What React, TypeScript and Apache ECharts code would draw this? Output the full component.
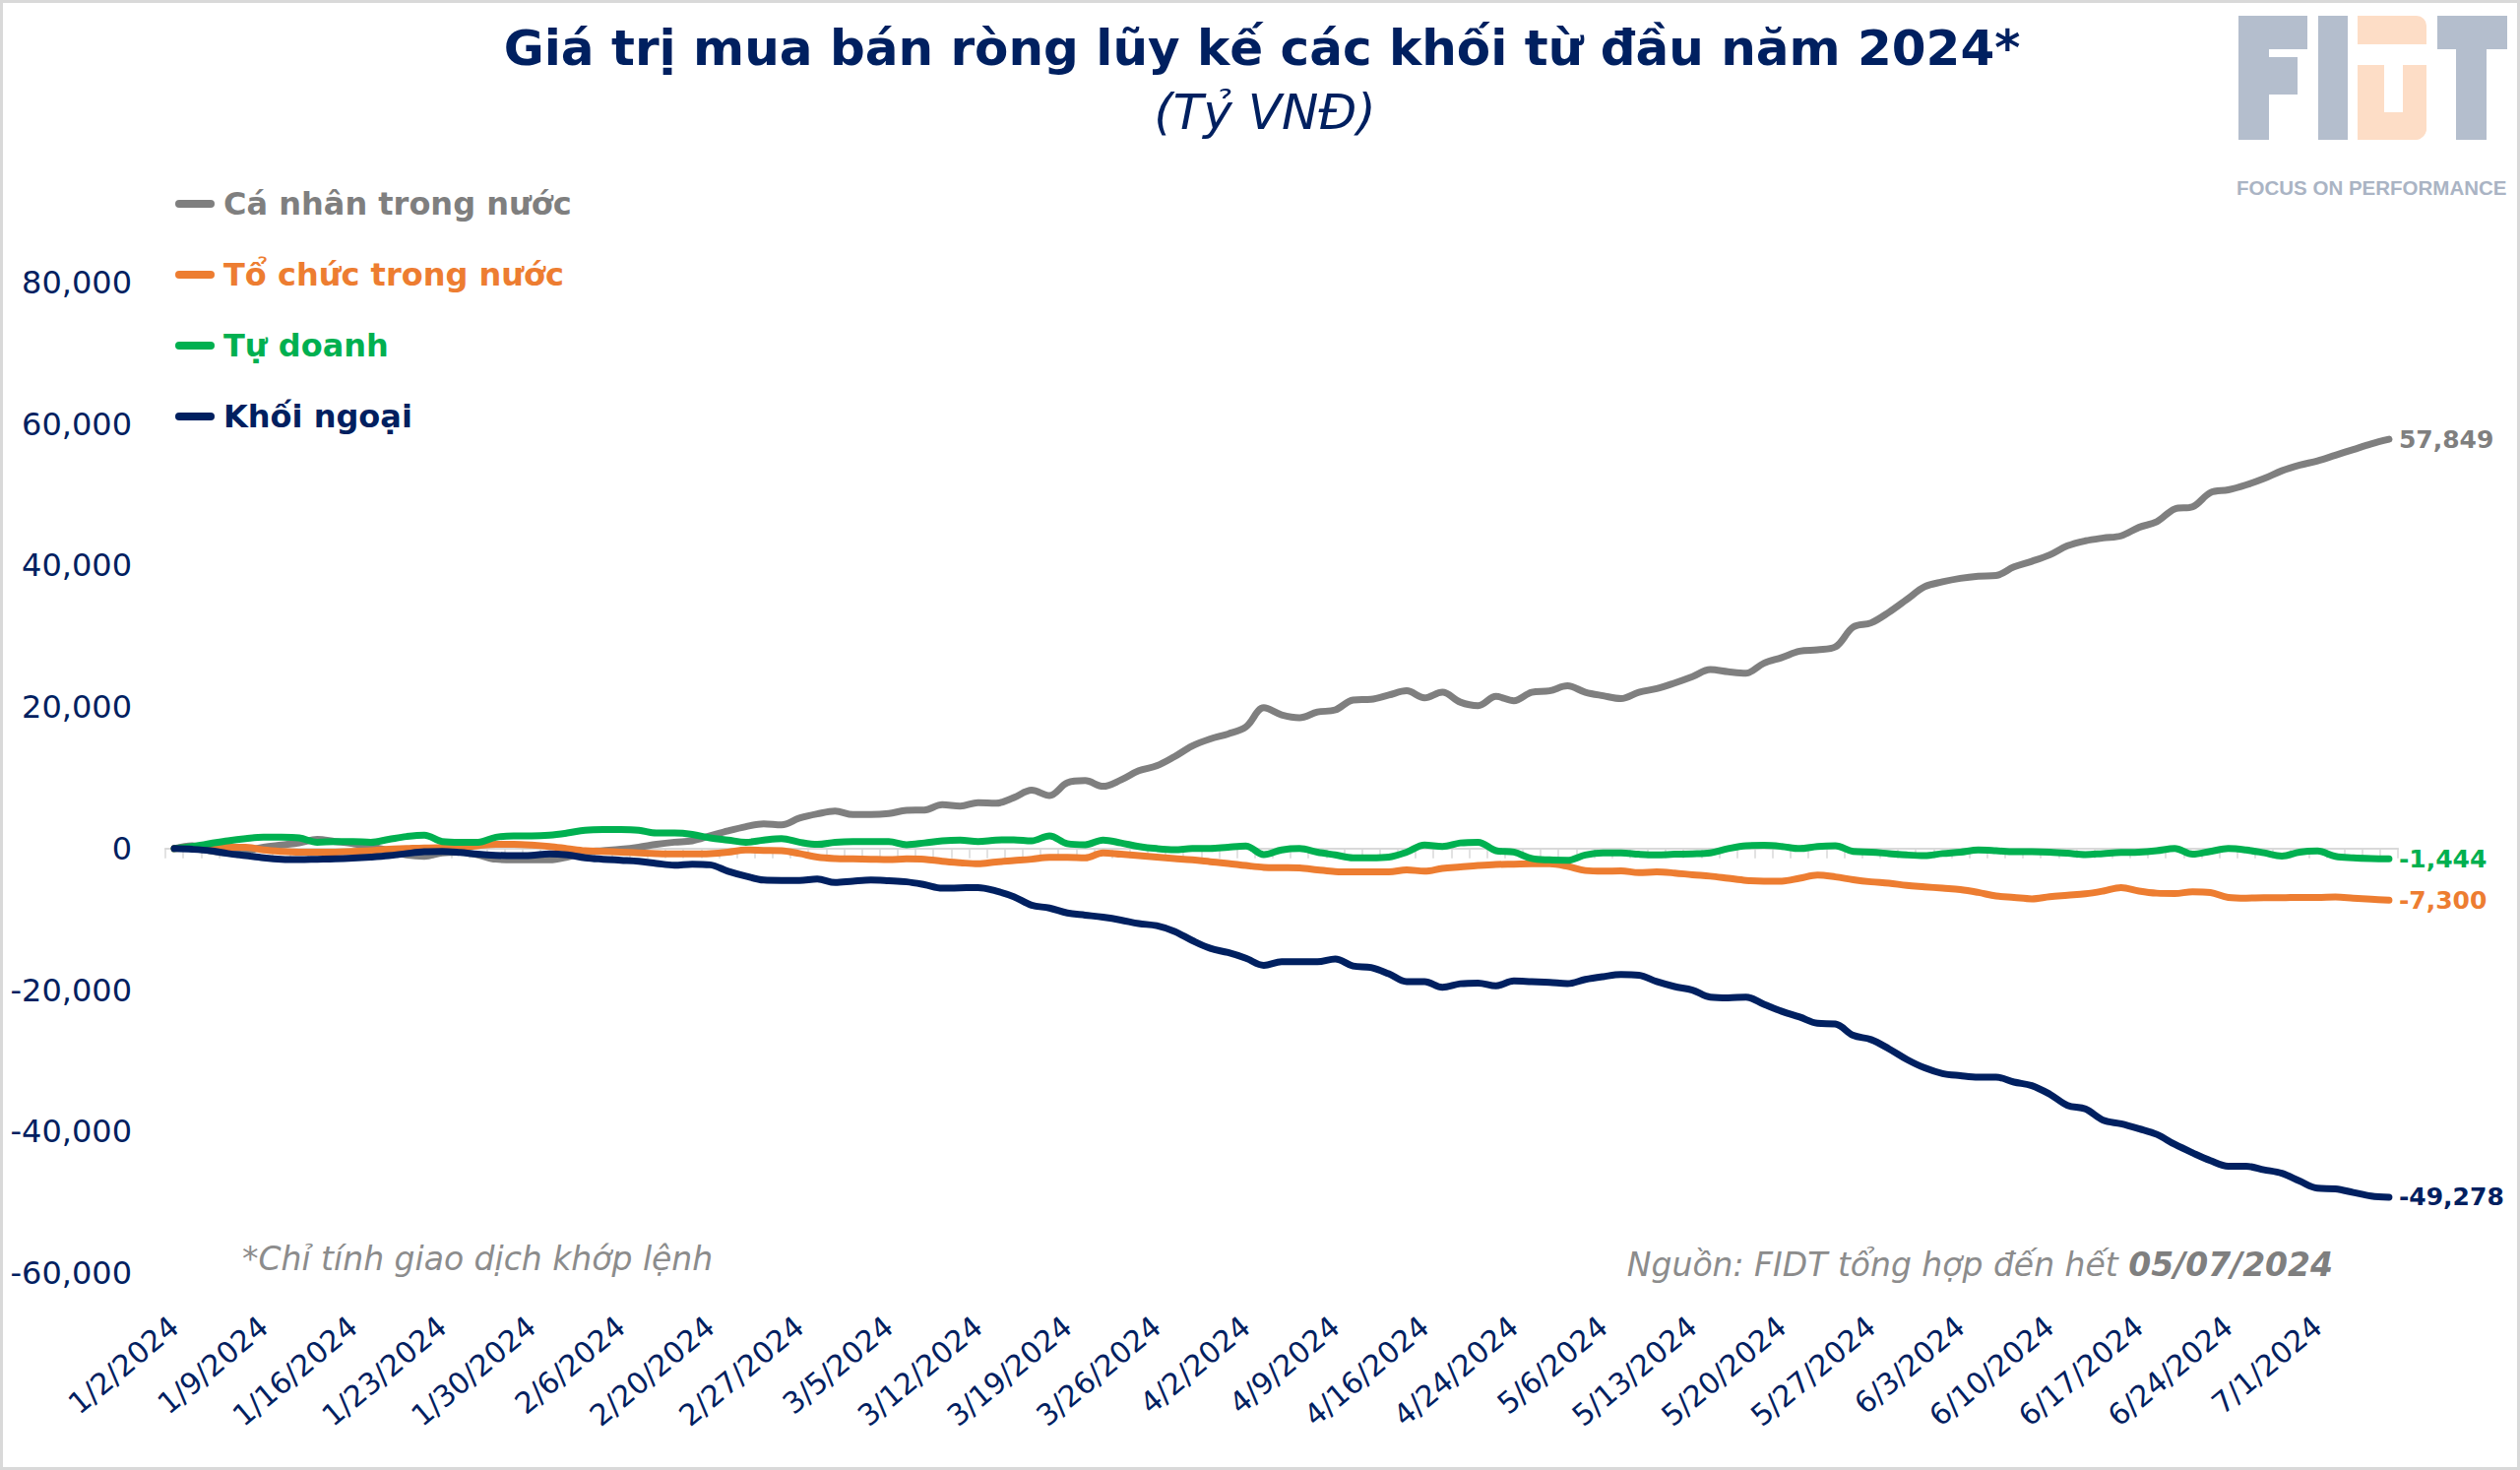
import React, { useEffect, useRef } from "react";
import * as echarts from "echarts";

// Trading days (HOSE) from 2 Jan 2024 to 5 Jul 2024
const JAN_DAYS = [2, 3, 4, 5, 8, 9, 10, 11, 12, 15, 16, 17, 18, 19, 22, 23, 24, 25, 26, 29, 30, 31];
const FEB_DAYS = [1, 2, 5, 6, 7, 15, 16, 19, 20, 21, 22, 23, 26, 27, 28, 29];
const MAR_DAYS = [1, 4, 5, 6, 7, 8, 11, 12, 13, 14, 15, 18, 19, 20, 21, 22, 25, 26, 27, 28, 29];
const APR_DAYS = [1, 2, 3, 4, 5, 8, 9, 10, 11, 12, 15, 16, 17, 19, 22, 23, 24, 25, 26];
const MAY_DAYS = [2, 3, 6, 7, 8, 9, 10, 13, 14, 15, 16, 17, 20, 21, 22, 23, 24, 27, 28, 29, 30, 31];
const JUN_DAYS = [3, 4, 5, 6, 7, 10, 11, 12, 13, 14, 17, 18, 19, 20, 21, 24, 25, 26, 27, 28];
const JUL_DAYS = [1, 2, 3, 4, 5];
const MONTHS: [number, number[]][] = [
  [1, JAN_DAYS], [2, FEB_DAYS], [3, MAR_DAYS], [4, APR_DAYS], [5, MAY_DAYS], [6, JUN_DAYS], [7, JUL_DAYS],
];
const categories: string[] = MONTHS.flatMap(([m, days]) => days.map((d) => `${m}/${d}/2024`));

const seriesNames = ["Cá nhân trong nước", "Tổ chức trong nước", "Tự doanh", "Khối ngoại"];
const seriesColors = ["#7F7F7F", "#ED7D31", "#00B050", "#002060"];

const caNhan = [
  0, 400, -300, -600, -300, 200, 500, 800, 1300, 1000,
  700, 300, -300, -900, -1100, -600, -500, -900, -1500, -1600,
  -1600, -1600, -1200, -500, -300, -100, 200, 600, 900, 1100,
  1800, 2500, 3100, 3500, 3350, 4300, 4900, 5300, 4800, 4800,
  4950, 5400, 5450, 6200, 6000, 6500, 6400, 7200, 8250, 7500,
  9300, 9600, 8800, 9700, 11000, 11700, 13000, 14500, 15500, 16200,
  17200, 19900, 18900, 18500, 19300, 19600, 21000, 21100, 21700, 22300,
  21300, 22100, 20700, 20200, 21500, 20900, 22100, 22300, 23000, 22100,
  21600, 21200, 22100, 22600, 23400, 24300, 25300, 25000, 24800, 26200,
  27000, 27900, 28100, 28500, 31300, 31900, 33400, 35200, 37000, 37700,
  38200, 38500, 38600, 39800, 40600, 41500, 42800, 43500, 43900, 44200,
  45400, 46200, 48000, 48300, 50300, 50700, 51400, 52300, 53400, 54200,
  54800, 55600, 56400, 57200, 57849,
];

const toChuc = [
  0, 200, 300, 200, 200, -200, -400, -500, -500, -500,
  -400, -300, -100, 0, 100, 150, 200, 400, 600, 600,
  500, 300, 0, -300, -400, -500, -600, -700, -750, -750,
  -700, -500, -200, -250, -300, -700, -1200, -1400, -1450, -1500,
  -1550, -1450, -1500, -1800, -2000, -2150, -1900, -1700, -1500, -1250,
  -1250, -1300, -600, -800, -1000, -1200, -1400, -1600, -1850, -2100,
  -2400, -2650, -2700, -2750, -3000, -3250, -3300, -3300, -3300, -3000,
  -3200, -2800, -2600, -2400, -2250, -2200, -2150, -2150, -2500, -3100,
  -3200, -3150, -3400, -3300, -3450, -3700, -3900, -4200, -4500, -4600,
  -4600, -4200, -3750, -4000, -4400, -4700, -4900, -5200, -5400, -5600,
  -5800, -6200, -6700, -6900, -7100, -6800, -6600, -6400, -6000, -5500,
  -6000, -6300, -6350, -6100, -6200, -6900, -7000, -6950, -6950, -6900,
  -6900, -6850, -7000, -7150, -7300,
];

const tuDoanh = [
  0, 300, 700, 1100, 1400, 1600, 1600, 1500, 900, 1000,
  1000, 900, 1300, 1700, 1900, 1000, 900, 900, 1600, 1800,
  1800, 1900, 2200, 2600, 2700, 2700, 2600, 2200, 2200, 2000,
  1500, 1200, 900, 1200, 1400, 900, 600, 900, 1000, 1000,
  1000, 550, 800, 1100, 1200, 1000, 1200, 1250, 1100, 1800,
  700, 550, 1200, 800, 300, 0, -150, 0, 0, 200,
  350, -850, -200, 0, -500, -900, -1300, -1300, -1200, -500,
  500, 300, 800, 900, -300, -500, -1400, -1600, -1650, -900,
  -600, -600, -800, -900, -800, -750, -600, 0, 400, 450,
  300, 0, 300, 400, -400, -500, -700, -900, -1000, -700,
  -500, -200, -300, -450, -450, -500, -650, -850, -700, -550,
  -500, -300, 0, -800, -400, 0, -200, -600, -1050, -500,
  -350, -1100, -1300, -1400, -1444,
];

const khoiNgoai = [
  0, -100, -300, -700, -1000, -1300, -1500, -1550, -1500, -1450,
  -1350, -1200, -1000, -700, -450, -400, -550, -800, -950, -1000,
  -950, -750, -900, -1300, -1500, -1650, -1800, -2100, -2350, -2200,
  -2300, -3200, -3900, -4450, -4500, -4500, -4300, -4800, -4600, -4450,
  -4550, -4700, -5100, -5600, -5550, -5500, -6000, -6800, -8000, -8400,
  -9100, -9400, -9700, -10100, -10600, -10900, -11700, -13000, -14100, -14700,
  -15500, -16500, -16000, -16000, -16000, -15600, -16600, -16800, -17700, -18800,
  -18800, -19600, -19100, -19000, -19400, -18700, -18800, -18900, -19100, -18500,
  -18100, -17800, -17900, -18800, -19500, -20000, -21000, -21100, -21000, -22000,
  -23000, -23800, -24700, -24800, -26400, -27000, -28300, -29800, -31000, -31800,
  -32100, -32300, -32300, -33000, -33500, -34700, -36300, -36800, -38400, -38900,
  -39600, -40400, -41800, -43000, -44100, -44900, -44900, -45400, -45900, -47000,
  -48000, -48100, -48600, -49100, -49278,
];

const seriesData = [caNhan, toChuc, tuDoanh, khoiNgoai];

const yMin = -60000;
const yMax = 80000;
const yInterval = 20000;

const TITLE = "Giá trị mua bán ròng lũy kế các khối từ đầu năm 2024*";
const SUBTITLE = "(Tỷ VNĐ)";
const NOTE = "*Chỉ tính giao dịch khớp lệnh";
const SOURCE_A = "Nguồn: FIDT tổng hợp đến hết ";
const SOURCE_B = "05/07/2024";

const FONT = "'DejaVu Sans', 'Noto Sans', sans-serif";
const NAVY = "#002060";
const LOGO_BLUE = "#B4BECD";
const LOGO_ORANGE = "#FDDDC6";

export default function App() {
  const ref = useRef<HTMLDivElement>(null);

  useEffect(() => {
    if (!ref.current) return;
    const chart = echarts.init(ref.current, undefined, { renderer: "svg" });

    const fmt = (v: number) => Math.round(v).toLocaleString("en-US");

    const option: any = {
      animation: false,
      backgroundColor: "#FFFFFF",
      grid: { left: 168, right: 2560 - 2436, top: 287, bottom: 1493 - 1293, containLabel: false },
      legend: {
        orient: "vertical",
        left: 173,
        top: 182,
        itemWidth: 40,
        itemHeight: 8,
        itemGap: 32,
        icon: "path://M4,0 H36 A4,4 0 0 1 36,8 H4 A4,4 0 0 1 4,0 Z",
        textStyle: { fontFamily: FONT, fontSize: 32, fontWeight: "bold", lineHeight: 40, padding: [0, 0, 0, 4] },
        data: seriesNames.map((n, i) => ({ name: n, textStyle: { color: seriesColors[i] } })),
      },
      xAxis: [
        {
          type: "category",
          data: categories,
          boundaryGap: true,
          position: "bottom",
          axisLine: { show: false, onZero: false },
          axisTick: { show: false },
          axisLabel: {
            interval: 4,
            rotate: 40,
            margin: 50,
            color: NAVY,
            fontFamily: FONT,
            fontSize: 30,
          },
          splitLine: { show: false },
        },
        {
          type: "category",
          data: categories,
          boundaryGap: true,
          position: "bottom",
          axisLine: { show: true, onZero: true, lineStyle: { color: "#D9D9D9", width: 2 } },
          axisTick: { show: true, interval: 0, length: 10, lineStyle: { color: "#D9D9D9", width: 1.5 } },
          axisLabel: { show: false },
          splitLine: { show: false },
        },
      ],
      yAxis: {
        type: "value",
        min: yMin,
        max: yMax,
        interval: yInterval,
        axisLine: { show: false },
        axisTick: { show: false },
        splitLine: { show: false },
        axisLabel: {
          margin: 34,
          color: NAVY,
          fontFamily: FONT,
          fontSize: 32,
          formatter: (v: number) => fmt(v),
        },
      },
      series: seriesNames.map((name, i) => ({
        name,
        type: "line",
        xAxisIndex: 0,
        data: seriesData[i],
        smooth: 0.35,
        symbol: "none",
        lineStyle: { color: seriesColors[i], width: 7, cap: "round", join: "round" },
        itemStyle: { color: seriesColors[i] },
        endLabel: {
          show: true,
          distance: 10,
          color: seriesColors[i],
          fontFamily: FONT,
          fontSize: 25,
          fontWeight: "bold",
          formatter: (p: any) => fmt(p.value),
        },
        z: 2 + i,
      })),
      graphic: [
        {
          type: "rect",
          silent: true,
          shape: { x: 1.5, y: 1.5, width: 2557, height: 1490 },
          style: { fill: "none", stroke: "#D9D9D9", lineWidth: 3 },
        },
        {
          type: "text",
          x: 1282,
          y: 49,
          style: { text: TITLE, fill: NAVY, fontFamily: FONT, fontSize: 50, fontWeight: "bold", align: "center", verticalAlign: "middle" },
        },
        {
          type: "text",
          x: 1285,
          y: 114,
          style: { text: SUBTITLE, fill: NAVY, fontFamily: FONT, fontSize: 50, fontStyle: "italic", align: "center", verticalAlign: "middle" },
        },
        {
          type: "text",
          x: 246,
          y: 1278,
          style: { text: NOTE, fill: "#8C8C8C", fontFamily: FONT, fontSize: 33, fontStyle: "italic", align: "left", verticalAlign: "middle" },
        },
        {
          type: "text",
          x: 2370,
          y: 1284,
          style: {
            text: `{a|${SOURCE_A}}{b|${SOURCE_B}}`,
            align: "right",
            verticalAlign: "middle",
            rich: {
              a: { fill: "#8C8C8C", fontFamily: FONT, fontSize: 33, fontStyle: "italic" },
              b: { fill: "#7F7F7F", fontFamily: FONT, fontSize: 33, fontStyle: "italic", fontWeight: "bold" },
            },
          },
        },
        // FIDT logo
        { type: "rect", silent: true, shape: { x: 2274, y: 16, width: 31, height: 126 }, style: { fill: LOGO_BLUE } },
        { type: "rect", silent: true, shape: { x: 2274, y: 16, width: 70, height: 34 }, style: { fill: LOGO_BLUE } },
        { type: "rect", silent: true, shape: { x: 2274, y: 58, width: 60, height: 38 }, style: { fill: LOGO_BLUE } },
        { type: "rect", silent: true, shape: { x: 2355, y: 16, width: 30, height: 126 }, style: { fill: LOGO_BLUE } },
        { type: "rect", silent: true, shape: { x: 2395, y: 16, width: 70, height: 29, r: [0, 10, 0, 0] }, style: { fill: LOGO_ORANGE } },
        { type: "rect", silent: true, shape: { x: 2395, y: 66, width: 27, height: 76 }, style: { fill: LOGO_ORANGE } },
        { type: "rect", silent: true, shape: { x: 2441, y: 66, width: 24, height: 76, r: [0, 0, 12, 0] }, style: { fill: LOGO_ORANGE } },
        { type: "rect", silent: true, shape: { x: 2395, y: 114, width: 70, height: 28, r: [0, 0, 12, 0] }, style: { fill: LOGO_ORANGE } },
        { type: "rect", silent: true, shape: { x: 2476, y: 16, width: 71, height: 34 }, style: { fill: LOGO_BLUE } },
        { type: "rect", silent: true, shape: { x: 2495, y: 16, width: 31, height: 126 }, style: { fill: LOGO_BLUE } },
        {
          type: "text",
          x: 2272,
          y: 190,
          style: {
            text: "FOCUS ON PERFORMANCE",
            fill: "#AAB4C4",
            fontFamily: "'Liberation Sans', Arial, sans-serif",
            fontSize: 20.5,
            fontWeight: "bold",
            align: "left",
            verticalAlign: "middle",
          },
        },
      ],
    };

    chart.setOption(option);
    return () => chart.dispose();
  }, []);

  return (
    <div
      ref={ref}
      style={{ position: "fixed", left: 0, top: 0, width: 2560, height: 1493, background: "#FFFFFF" }}
    />
  );
}
